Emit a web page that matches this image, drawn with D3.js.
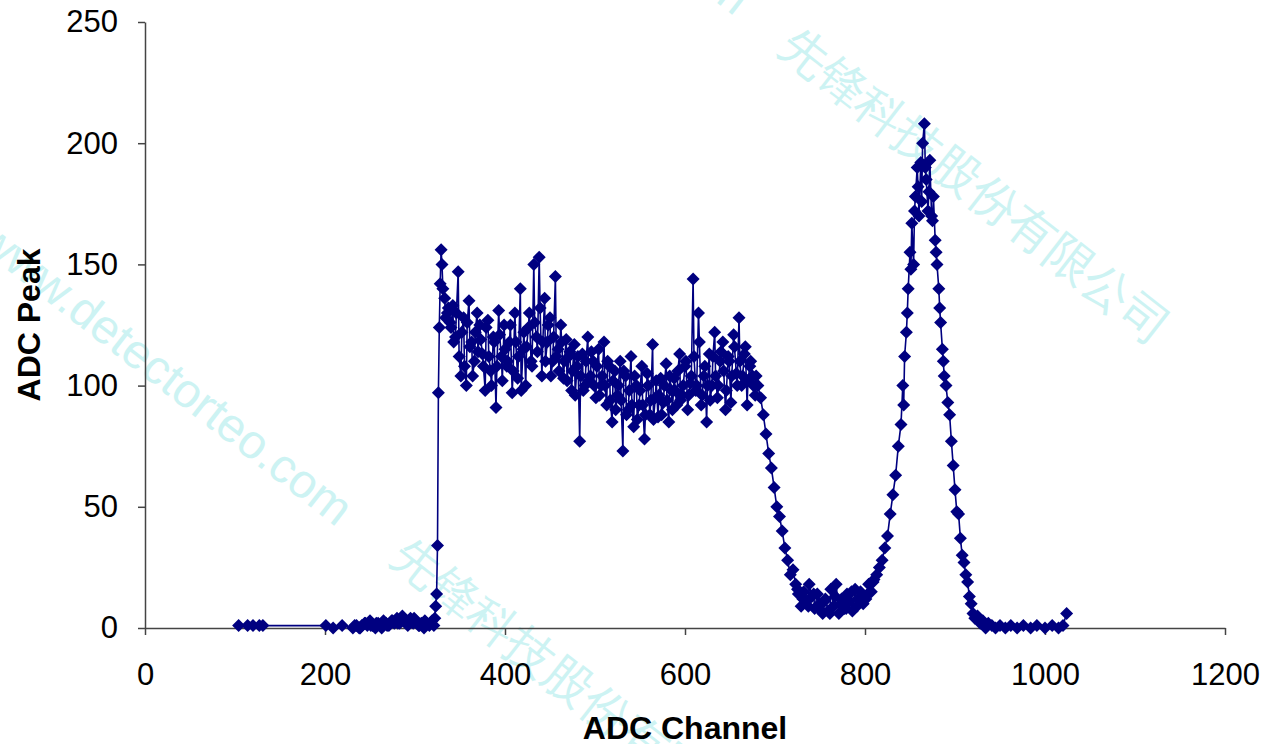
<!doctype html>
<html>
<head>
<meta charset="utf-8">
<style>
  body { margin: 0; background: #fff; }
  svg { font-family: "Liberation Sans", Arial, sans-serif; }
  .tick text { fill: #000; }
  .axis path, .axis line { stroke: #444; stroke-width: 1.5px; }
  .title { font-size: 32px; font-weight: bold; }
  .wm { fill: #cdf3f3; font-size: 48px; }
</style>
<script src="https://cdn.jsdelivr.net/npm/d3@7"></script>
</head>
<body>
<svg width="1267" height="744" id="chart"></svg>
<script>
// ADC channel / peak counts
var channels = [104,114,120,127,131,201,209,219,
  231,235,238,241,244,247,250,253,256,259,262,265,268,271,274,277,280,283,286,289,292,295,298,301,304,307,310,313,316,319,321,322,323,324,325,326,327,328,329,
  330,333,336,339,342,345,348,351,354,357,360,363,366,369,372,375,378,381,384,387,390,393,396,399,402,405,408,411,414,417,420,423,426,429,432,435,438,441,444,447,450,
  453,456,459,462,465,468,471,474,477,480,483,486,489,492,495,498,501,504,507,510,513,516,519,522,525,528,531,534,537,540,543,546,549,552,555,558,561,564,567,570,
  573,576,579,582,585,588,591,594,597,600,603,606,609,612,615,618,621,624,627,630,633,636,639,642,645,648,651,654,657,660,663,666,669,672,675,678,
  681,684,687,690,693,696,699,702,705,708,711,714,717,720,723,726,729,732,735,738,741,744,747,750,753,756,759,762,765,768,771,774,777,780,783,786,789,792,795,798,
  801,804,807,810,813,816,819,822,825,828,831,834,837,840,842,844,846,848,850,852,854,856,858,860,862,864,866,868,870,872,874,876,878,880,882,884,886,888,890,892,
  894,896,898,900,902,904,906,908,910,912,914,916,918,920,922,925,928,931,934,937,941,945,950,956,962,969,976,984,991,1000,1008,1015,1020,1024];

var peaks = [1,1,1,1,1,1,0,1,
  0,1,0,1,2,1,3,1,0,2,1,3,2,1,3,2,4,2,5,3,1,4,2,3,1,2,0,2,1,3,1,4,9,14,34,97,124,142,156,
  150,136,130,126,133,120,147,104,128,100,135,118,110,130,125,113,98,127,106,120,91,131,112,125,108,118,97,130,103,140,115,100,124,110,150,120,153,104,136,118,128,
  110,145,115,125,103,119,112,98,117,108,77,113,100,120,104,110,95,115,100,118,92,108,85,106,96,110,73,104,90,112,83,100,92,108,78,105,88,117,95,87,
  103,93,109,85,98,103,92,113,96,108,90,101,144,98,130,92,104,85,113,100,122,95,110,118,90,112,93,121,105,128,100,113,92,108,104,96,
  100,95,88,80,72,66,58,50,46,40,33,28,22,24,18,14,9,15,11,18,13,8,14,10,6,12,7,16,9,18,6,12,8,14,11,7,16,12,15,10,
  12,18,15,20,22,25,28,33,38,47,55,63,75,84,100,112,122,140,155,167,150,178,190,170,192,200,208,185,172,193,170,178,160,150,140,126,115,104,100,93,
  88,77,67,57,48,47,37,30,27,22,19,13,10,6,4,5,2,3,0,2,1,0,1,0,1,0,1,0,1,0,1,0,1,6];

// the in-between channels
var channelsB = [233,239,245,251,257,263,269,275,281,287,293,299,305,311,317,
  331,334,337,340,343,346,349,352,355,358,361,364,367,370,373,376,379,382,385,388,391,394,397,400,403,406,409,412,415,418,421,424,427,430,433,436,439,442,445,448,
  451,454,457,460,463,466,469,472,475,478,481,484,487,490,493,496,499,502,505,508,511,514,517,520,523,526,529,532,535,538,541,544,547,550,553,556,559,562,565,568,
  571,574,577,580,583,586,589,592,595,598,601,604,607,610,613,616,619,622,625,628,631,634,637,640,643,646,649,652,655,658,661,664,667,670,673,676,679,
  725,731,737,743,749,755,761,767,773,779,785,791,797,803,809,
  843,847,851,855,859,863,867,871,875,879,883,887];

var peaksB = [1,0,2,1,2,0,1,3,2,3,2,4,1,3,2,
  140,128,132,124,118,130,112,122,108,126,116,104,122,114,119,108,124,112,100,118,108,121,102,115,110,125,106,118,112,98,122,116,130,108,126,114,132,118,110,125,
  104,120,112,106,118,110,102,114,106,96,112,104,98,110,102,114,100,108,96,104,100,110,94,102,90,100,94,106,88,98,92,104,86,98,92,88,100,94,86,102,
  96,88,100,94,104,90,98,106,94,100,110,96,104,112,100,118,96,108,100,94,112,104,100,114,106,98,110,104,116,100,110,104,116,102,110,100,104,
  16,12,9,14,8,11,6,13,10,8,15,9,13,14,19,
  92,130,148,172,182,176,190,180,168,155,132,110];

var xTicks = [0,200,400,600,800,1000,1200];
var yTicks = [0,50,100,150,200,250];

var data = channels.map(function(c, i) { return {x: c, y: peaks[i]}; })
  .concat(channelsB.map(function(c, i) { return {x: c, y: peaksB[i]}; }))
  .filter(function(d) { return d.y !== undefined; })
  .sort(function(a, b) { return a.x - b.x; });

var svg = d3.select("#chart");
var plotLeft = 145, plotRight = 1225, plotTop = 22, plotBottom = 628;

// watermark
var wm = svg.append("g");
[[-15, 232, "www.detectorteo.com"], [398, 548, "先锋科技股份有限公司"],
 [383, -279, "www.detectorteo.com"], [786, 38, "先锋科技股份有限公司"]].forEach(function(w) {
  wm.append("text")
    .attr("class", "wm")
    .attr("dominant-baseline", "central")
    .attr("transform", "translate(" + w[0] + "," + w[1] + ") rotate(38)")
    .text(w[2]);
});

var xScale = d3.scaleLinear().domain([0, 1200]).range([plotLeft, plotRight]);
var yScale = d3.scaleLinear().domain([0, 250]).range([plotBottom, plotTop]);

// axes
svg.append("g")
  .attr("class", "axis")
  .attr("transform", "translate(0," + plotBottom + ")")
  .call(d3.axisBottom(xScale).tickValues(xTicks).tickFormat(d3.format("d"))
    .tickSizeInner(7).tickSizeOuter(0).tickPadding(28))
  .selectAll("text").style("font-size", "31px").style("font-family", "Liberation Sans, Arial, sans-serif");

svg.append("g")
  .attr("class", "axis")
  .attr("transform", "translate(" + plotLeft + ",0)")
  .call(d3.axisLeft(yScale).tickValues(yTicks).tickFormat(d3.format("d"))
    .tickSizeInner(7).tickSizeOuter(0).tickPadding(20))
  .selectAll("text").style("font-size", "31px").style("font-family", "Liberation Sans, Arial, sans-serif");

// series line
var line = d3.line()
  .x(function(d) { return xScale(d.x); })
  .y(function(d) { return yScale(d.y); });

svg.append("path")
  .datum(data)
  .attr("d", line)
  .attr("fill", "none")
  .attr("stroke", "#000080")
  .attr("stroke-width", 1.6);

// diamond markers
var r = 6.5;
svg.selectAll(".pt")
  .data(data)
  .enter().append("path")
  .attr("class", "pt")
  .attr("d", "M0," + (-r) + "L" + r + ",0L0," + r + "L" + (-r) + ",0Z")
  .attr("transform", function(d) { return "translate(" + xScale(d.x) + "," + yScale(d.y) + ")"; })
  .attr("fill", "#000080");

// axis titles
svg.append("text")
  .attr("class", "title")
  .attr("x", (plotLeft + plotRight) / 2)
  .attr("y", 739)
  .attr("text-anchor", "middle")
  .text("ADC Channel");

svg.append("text")
  .attr("class", "title")
  .attr("transform", "translate(40," + ((plotTop + plotBottom) / 2) + ") rotate(-90)")
  .attr("text-anchor", "middle")
  .text("ADC Peak");
</script>
</body>
</html>
